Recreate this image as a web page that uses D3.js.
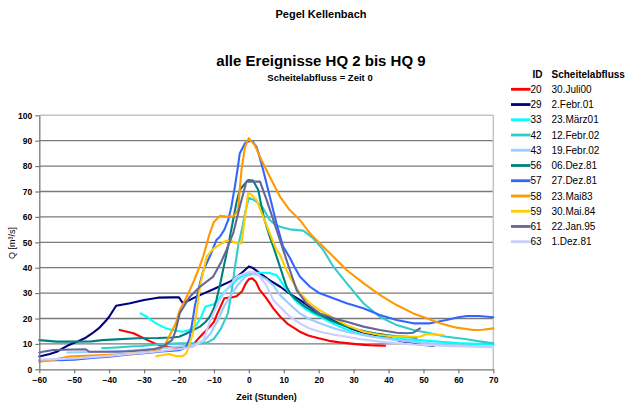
<!DOCTYPE html>
<html><head><meta charset="utf-8">
<script src="https://cdn.jsdelivr.net/npm/d3@7"></script>
<style>
html,body{margin:0;padding:0;background:#fff;}
svg{display:block;font-family:"Liberation Sans",Arial,sans-serif;}
</style></head>
<body><svg id="c" width="643" height="402"></svg>
<script>
// ---- data ----
const ids = ["20","29","33","42","43","56","57","58","59","61","63"];
const dates = ["30.Juli00","2.Febr.01","23.März01","12.Febr.02","19.Febr.02","06.Dez.81","27.Dez.81","23.Mai83","30.Mai.84","22.Jan.95","1.Dez.81"];
const colors = ["#ff0000","#000080","#00ffff","#33cccc","#99ccff","#008080","#3366ff","#ff9900","#ffcc00","#666699","#ccccff"];
const xTicks = [-60,-50,-40,-30,-20,-10,0,10,20,30,40,50,60,70];
const yTicks = [0,10,20,30,40,50,60,70,80,90,100];

const s20 = [[-37,15.5],[-33,14.2],[-29,11.5],[-26,9.6],[-23,8.9],[-20,8.3],[-18,8.6],[-16,9.6],[-14.5,12],[-13,14.2],[-11,17],[-10,18.7],[-9,22],[-7,28],[-5,28.3],[-3.5,28.8],[-2,30.6],[-1,33.5],[0,35.5],[1,35.8],[2,34.5],[3,31.5],[5,28],[7,24],[9,20.7],[11,18],[14.6,14.8],[17,13.3],[20,12.2],[23,11.2],[26,10.6],[30,10],[33,9.6],[36,9.4],[39,9.3]];
const s29 = [[-60,5],[-57,6],[-55,6.9],[-51.5,9.6],[-49,11],[-47,12.2],[-45,14],[-43,16.1],[-41,19],[-40,20.7],[-38,25],[-34,26],[-30,27.3],[-26,28.2],[-22,28.3],[-20,28.3],[-19,26.2],[-18,26.6],[-15,28.6],[-10,31.6],[-5,34.8],[-2,38],[0,40.5],[1,40],[3,38],[6,35],[9,32.5],[12,29.5],[14.6,27.3],[17,25],[20,22],[23,20],[26,18.1],[29,16.2],[32,14.8],[36,13.5],[39.5,12.6],[43,11.3],[47,10.2],[50,9.6],[53,9.3]];
const s33 = [[-31,22],[-29,20.5],[-26.6,18.1],[-24,16.3],[-22,15.5],[-19,14.8],[-17,15.5],[-15,17.4],[-13.5,21],[-12.5,24.6],[-10,25.6],[-9,27],[-7.4,29.9],[-5.5,32.5],[-3.5,35.2],[-1.5,37],[0.3,37.8],[2,38],[4,38],[6,37.9],[8,37],[9,35],[10,33],[11.7,30],[13,27.5],[14.6,25.5],[16.5,23.5],[18.3,22],[21,20.3],[23.2,18.6],[26,16.8],[28,15.7],[30,14.7],[32.7,13.6],[36,12.8],[40.4,12.2],[45,11.8],[49,11.5],[55,10.8],[60,10.3],[65,10],[70,9.8]];
const s42 = [[-42,8.3],[-38,8.6],[-34,9],[-31,9.2],[-26,9.8],[-20,10.2],[-14,10.2],[-12,10.5],[-10,12],[-8,16],[-6,22],[-5,30],[-4,40],[-3,49],[-2,55],[-1,62],[0,67.5],[1,67],[2.2,66],[4.1,63.4],[6,58.8],[7.5,57],[8.9,56.1],[11.7,55.1],[15.6,54.6],[18.4,51.6],[21.3,47],[24.2,40.4],[28,33.9],[32.8,26],[37.5,20.7],[42.3,17.4],[47.1,15.5],[51.9,14.2],[56.6,12.8],[62.4,11.8],[66,11],[70,10.2]];
const s43 = [[-52,6.6],[-45,6.8],[-40,7],[-35,7.3],[-30,7.8],[-25,8.3],[-20,9],[-16,9.5],[-13,11],[-11,14],[-9,19],[-7,25],[-5,29.5],[-3,33.5],[-1,36.5],[1.2,37.5],[3,37],[5,35.5],[7,33],[8.9,29.3],[11,26.5],[14.6,22],[17,20],[20.3,18.1],[23,16.8],[26,15.5],[29,14.5],[32.7,13.5],[37,12.5],[42.3,11.5],[47,10.8],[51.9,10.2],[56,9.8],[60,9.4],[65,9.1],[70,8.9]];
const s56 = [[-60,11.5],[-55,10.9],[-50,10.9],[-45,11],[-42,11.5],[-38,11.8],[-32,12.2],[-26,12.3],[-22,12.5],[-20,12.8],[-18,14],[-16.9,14.8],[-14,16.8],[-12.5,18.5],[-11.2,20.7],[-10,24],[-9.3,27.3],[-8.3,33],[-7.4,39],[-6,48],[-4.5,58.8],[-3.5,66],[-2.6,70.6],[-1.5,72.5],[-0.2,74.5],[1.2,74.3],[2.7,70.6],[3.5,65],[4.5,58.8],[5.8,53],[7,48.3],[8.9,40.4],[10.8,32.5],[12,29.5],[13.7,27.3],[16,24.8],[18.4,22.7],[21,21],[23.2,19.4],[26,17.8],[28,16.8],[31,15.7],[33.7,14.8],[36.5,14.1],[39.4,13.5],[42,13],[45.2,12.8],[48,12.4]];
const s57 = [[-60,3.5],[-55,3.6],[-50,3.8],[-45,4.5],[-40,5],[-35,5.7],[-30,6.3],[-25,7],[-20,7.5],[-18,8.6],[-17,12],[-16,20],[-15.5,24.6],[-14,33.9],[-13,39],[-11,45],[-9.3,50.9],[-8.3,52.2],[-7,55],[-5.9,58.8],[-5,64],[-4,71.9],[-3.2,79],[-2.6,85],[-1.1,89],[0.3,90],[1,89.8],[2.2,87.6],[3,84],[4.1,78.5],[6,68],[7.9,57.5],[9.8,48.3],[11.7,44],[13,40.5],[14.6,36.5],[17.5,32.5],[20.3,29.9],[24.2,28],[28,26],[32.8,24],[37.5,21.4],[42.3,19.4],[47.1,18.1],[51.9,18.1],[56.6,19.4],[60,20.5],[62.4,21],[66,21],[70,20.5]];
const s58 = [[-60,3],[-56,3.7],[-51.5,5],[-47,5.3],[-42,5.6],[-37,5.9],[-32,6.3],[-28,7],[-25.7,7.6],[-23.8,10.2],[-21.9,15.5],[-20.9,18.1],[-19.8,23.3],[-18,28],[-16,33.9],[-14.5,39],[-13.1,44.3],[-11.2,53.5],[-10,58],[-8.3,60.4],[-6.4,60.1],[-4.5,60.1],[-3.1,62.7],[-2.1,78.5],[-1.1,87.6],[0,91],[1.7,88.3],[3.6,82.4],[6,75.8],[8.9,68],[11.7,62.7],[14.6,58.8],[17.5,53.5],[20.3,49.6],[23.2,45.7],[28,39.1],[32.8,33.9],[37.5,29.3],[42.3,25.3],[47.1,22],[50.9,20.1],[54.7,18.1],[59.5,16.4],[64.3,15.5],[67,15.6],[70,16.1]];
const s59 = [[-26.5,5.2],[-25,5.5],[-22.8,6],[-21,5.2],[-19,5.2],[-17.9,6.3],[-16,14.2],[-15,22],[-14,32.5],[-12.1,44.3],[-10.5,47],[-9.3,48.3],[-6.4,50.6],[-5,50.5],[-3.5,49.6],[-2.1,49.6],[-1.1,60],[-0.2,69.3],[0.5,69],[2.2,66.7],[4.1,60.1],[6,53.5],[7.9,47],[8.9,45.2],[10.3,40.4],[11.7,36.5],[14.6,29.9],[17.5,26],[20.3,23.3],[24.2,20.1],[28,17.4],[32.8,14.8],[37.5,13.5],[42.3,12.8],[49,12.8],[50.9,13.9],[55.7,13.5]];
const s61 = [[-60,6.5],[-59,6.9],[-56,7.6],[-50,7.8],[-46.7,7.9],[-45.7,6.9],[-40,6.9],[-37,6.9],[-33,7.2],[-29.5,7.6],[-27,8],[-24.7,8.9],[-22,11.5],[-21,15],[-19.8,22],[-16.9,28.6],[-14,32.5],[-10.2,36.5],[-8,42],[-6.4,47],[-4.5,53.5],[-2.6,64],[-0.7,73.9],[0.3,73.9],[3.2,73.9],[5.1,66.7],[7,58.8],[8.9,50.9],[10.8,43],[12,38],[13.7,31.2],[16.5,26],[20.3,22],[24.2,20.1],[28,18.7],[32.8,16.8],[37.5,15.5],[42.3,14.4],[45.2,14.2],[47.1,14.4],[49,16.1]];
const s63 = [[-60,3.8],[-55,4],[-50,4.3],[-45,4.8],[-40,5.3],[-35,5.9],[-30,6.5],[-25,7.2],[-20,8],[-16,8.8],[-13,11.5],[-11.2,18.7],[-10,22.5],[-8.3,27.3],[-6,32],[-3.5,36.5],[0.3,38.4],[2,38],[3.2,36.5],[5,33],[7,27.3],[8.9,24.6],[11.7,20.7],[14.6,18.1],[17,16.3],[20.3,14.8],[24,13.7],[28,12.8],[32,11.8],[37.5,10.9],[42,10.3],[47.1,9.8],[52,9.5],[56.6,9.2],[62,9],[66,8.8],[70,8.7]];
const seriesData = [s20,s29,s33,s42,s43,s56,s57,s58,s59,s61,s63];

// ---- chart ----
const svg = d3.select("#c");
const L = 39.3, R = 493.3, T = 115.3, B = 369.3;
const x = d3.scaleLinear().domain([-60,70]).range([L,R]);
const y = d3.scaleLinear().domain([0,100]).range([B,T]);

// gridlines
svg.append("g").selectAll("line").data(yTicks.filter(v=>v>0 && v<100)).join("line")
  .attr("x1",L).attr("x2",R).attr("y1",d=>y(d)).attr("y2",d=>y(d))
  .attr("stroke","#7a7a7a").attr("stroke-width",1.3);
// top and right border
svg.append("line").attr("x1",L).attr("x2",R).attr("y1",T).attr("y2",T).attr("stroke","#c4c4c4").attr("stroke-width",1.5);
svg.append("line").attr("x1",R).attr("x2",R).attr("y1",T).attr("y2",B).attr("stroke","#c4c4c4").attr("stroke-width",1.5);

// series
const line = d3.line().x(d=>x(d[0])).y(d=>y(d[1])).curve(d3.curveLinear);
svg.append("g").selectAll("path").data(seriesData).join("path")
  .attr("d",line).attr("fill","none")
  .attr("stroke",(d,i)=>colors[i]).attr("stroke-width",2.1)
  .attr("stroke-linejoin","round").attr("stroke-linecap","round");

// axes
const xAxis = d3.axisBottom(x).tickValues(xTicks).tickSize(4).tickSizeOuter(0).tickPadding(4);
const yAxis = d3.axisLeft(y).tickValues(yTicks).tickSize(4).tickSizeOuter(0).tickPadding(3);
const gx = svg.append("g").attr("transform",`translate(0,${B})`).call(xAxis);
const gy = svg.append("g").attr("transform",`translate(${L},0)`).call(yAxis);
[gx,gy].forEach(g=>{
  g.select(".domain").attr("stroke","#777").attr("stroke-width",1.3);
  g.selectAll(".tick line").attr("stroke","#777").attr("stroke-width",1.2);
  g.selectAll("text").attr("font-family","Liberation Sans, Arial, sans-serif")
    .attr("font-size","8.5px").attr("font-weight","bold").attr("fill","#000");
});

// titles
svg.append("text").attr("x",321).attr("y",18).attr("text-anchor","middle")
  .attr("font-size","11px").attr("font-weight","bold").text("Pegel Kellenbach");
svg.append("text").attr("x",321).attr("y",66).attr("text-anchor","middle")
  .attr("font-size","15px").attr("font-weight","bold").text("alle Ereignisse HQ 2 bis HQ 9");
svg.append("text").attr("x",320).attr("y",80.5).attr("text-anchor","middle")
  .attr("font-size","9.5px").attr("font-weight","bold").text("Scheitelabfluss = Zeit 0");
svg.append("text").attr("x",266.5).attr("y",400).attr("text-anchor","middle")
  .attr("font-size","9px").attr("font-weight","bold").text("Zeit (Stunden)");
svg.append("text").attr("transform","translate(15,243) rotate(-90)").attr("text-anchor","middle")
  .attr("font-size","9px").text("Q [m³/s]");

// legend
const lg = svg.append("g");
lg.append("text").attr("x",532.5).attr("y",78).attr("font-size","10px").attr("font-weight","bold").text("ID");
lg.append("text").attr("x",551.5).attr("y",78).attr("font-size","10px").attr("font-weight","bold").text("Scheitelabfluss");
const rows = lg.selectAll("g.row").data(ids).join("g").attr("class","row")
  .attr("transform",(d,i)=>`translate(0,${89.3 + i*15.24})`);
rows.append("line").attr("x1",511).attr("x2",530.5).attr("y1",0).attr("y2",0)
  .attr("stroke",(d,i)=>colors[i]).attr("stroke-width",2.8);
rows.append("text").attr("x",530.5).attr("y",3.6).attr("font-size","10px").text(d=>d);
rows.append("text").attr("x",551.5).attr("y",3.6).attr("font-size","10px").text((d,i)=>dates[i]);
</script>
</body></html>
